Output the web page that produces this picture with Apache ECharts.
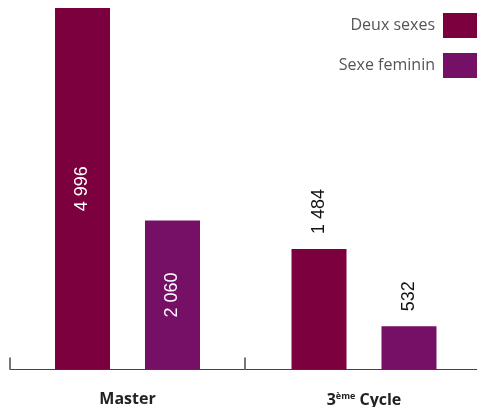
<!DOCTYPE html>
<html>
<head>
<meta charset="utf-8">
<script src="https://cdn.jsdelivr.net/npm/echarts@6/dist/echarts.min.js"></script>
<style>
html,body{margin:0;padding:0;background:#fff;}
#chart{width:477px;height:407px;}
</style>
</head>
<body>
<div id="chart"></div>
<script>
var categories = ['Master', '3ème Cycle'];
var seriesNames = ['Deux sexes', 'Sexe feminin'];
var deuxSexes = [4996, 1484];
var sexeFeminin = [2060, 532];

var colors = ['#7b003d', '#760f66'];
var fmt = function (v) { return String(v).replace(/\B(?=(\d{3})+(?!\d))/g, ' '); };

var chart = echarts.init(document.getElementById('chart'), null, {renderer: 'canvas'});

var grids = [
  {left: 10, top: 8, width: 235, bottom: 37.5, outerBoundsMode: 'none', containLabel: false},
  {left: 245, top: 8, width: 238, bottom: 37.5, outerBoundsMode: 'none', containLabel: false}
];
var yMax = [4996, 4450];

var xAxes = [], yAxes = [], series = [];
var allValues = [deuxSexes, sexeFeminin];
categories.forEach(function (cat, i) {
  xAxes.push({
    type: 'category', gridIndex: i, data: [cat],
    boundaryGap: true,
    axisLine: {show: true, lineStyle: {color: '#444', width: 1}},
    axisTick: {show: true, inside: true, length: 12, interval: 0, lineStyle: {color: '#777', width: 2}},
    axisLabel: {
      margin: 22,
      formatter: function (v) {
        if (v.indexOf('ème') >= 0) {
          return '{b|3}{s|ème}{b| Cycle}';
        }
        return '{b|' + v + '}';
      },
      rich: {
        b: {fontFamily: 'Open Sans', fontSize: 16, fontWeight: 'bold', color: '#222'},
        s: {fontFamily: 'Open Sans', fontSize: 9, fontWeight: 'bold', color: '#222', verticalAlign: 'top', padding: [0, 0, 8, 0]}
      }
    }
  });
  yAxes.push({type: 'value', gridIndex: i, min: 0, max: yMax[i], show: false, splitLine: {show: false}});
  seriesNames.forEach(function (name, s) {
    var v = allValues[s][i];
    var inside = (i === 0);
    series.push({
      type: 'bar', name: name, xAxisIndex: i, yAxisIndex: i,
      barWidth: 55, barGap: '63.6%',
      itemStyle: {color: colors[s]},
      label: inside ? {
        show: true, position: 'inside', rotate: 90, color: '#fff',
        fontFamily: 'Liberation Sans', fontSize: 18, formatter: function (p) { return fmt(p.value); }
      } : {
        show: true, position: 'top', rotate: 90, distance: 15, align: 'left', verticalAlign: 'middle',
        color: '#111', fontFamily: 'Liberation Sans', fontSize: 18, formatter: function (p) { return fmt(p.value); }
      },
      data: [v]
    });
  });
});

chart.setOption({
  animation: false,
  color: colors,
  legend: {
    data: seriesNames, orient: 'vertical', right: 0, top: 13, padding: 0,
    itemWidth: 34, itemHeight: 25, itemGap: 15, align: 'right', icon: 'rect',
    textStyle: {fontFamily: 'Open Sans', fontSize: 16, color: '#555', padding: [0, 3, 0, 0]}
  },
  grid: grids,
  xAxis: xAxes,
  yAxis: yAxes,
  series: series
});
</script>
</body>
</html>
